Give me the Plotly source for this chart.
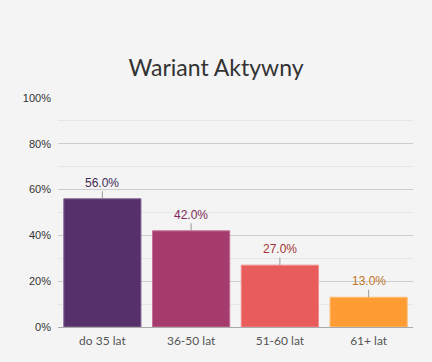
import plotly.graph_objects as go

categories = ["do 35 lat", "36-50 lat", "51-60 lat", "61+ lat"]
values = [56.0, 42.0, 27.0, 13.0]
bar_colors = ["#55306a", "#a63c6e", "#e85c5c", "#ff9c33"]
border_colors = ["#8a6a9a", "#c27095", "#f08a8a", "#ffbf7a"]
label_colors = ["#3f2a55", "#7d2b55", "#a33434", "#c0752a"]
y_ticks = [0, 20, 40, 60, 80, 100]
y_tick_labels = ["0%", "20%", "40%", "60%", "80%", "100%"]

fig = go.Figure()
fig.add_trace(go.Bar(
    x=categories, y=values,
    marker=dict(color=bar_colors, line=dict(color=border_colors, width=1)),
    hoverinfo="x+y",
))

for c, v, col in zip(categories, values, label_colors):
    fig.add_annotation(
        x=c, y=v, xref="x", yref="y",
        text=f"{v:.1f}%", showarrow=True, arrowhead=0, arrowwidth=1,
        arrowcolor="#999999", ax=0, ay=-16,
        font=dict(family="Arial, Liberation Sans", size=12, color=col),
        borderpad=1,
    )

fig.update_layout(
    width=432, height=362,
    paper_bgcolor="#f4f4f4", plot_bgcolor="#f4f4f4",
    margin=dict(l=58, r=19, t=98, b=35),
    bargap=0.13,
    showlegend=False,
    title=dict(text="Wariant Aktywny", x=0.5, xanchor="center", y=0.812, yanchor="middle",
               font=dict(family="Lato", size=23, color="#333333")),
    xaxis=dict(showgrid=False, showline=True, linecolor="#aaaaaa", linewidth=1,
               tickfont=dict(family="Lato", size=12, color="#555555"), ticks="",
               ticklabelstandoff=3, fixedrange=True),
    yaxis=dict(range=[0, 100], tickvals=y_ticks, ticktext=y_tick_labels,
               showgrid=True, gridcolor="#cccccc", gridwidth=1, zeroline=False,
               tickfont=dict(family="Arial, Liberation Sans", size=11, color="#333333"),
               ticks="", ticklabelstandoff=6,
               minor=dict(dtick=10, showgrid=True, gridcolor="#e6e6e6", gridwidth=1),
               fixedrange=True),
)

fig.write_html("out.html", config={"displayModeBar": False},
               post_script="document.body.style.margin='0';document.body.style.overflow='hidden';document.body.style.background='#f4f4f4';")
